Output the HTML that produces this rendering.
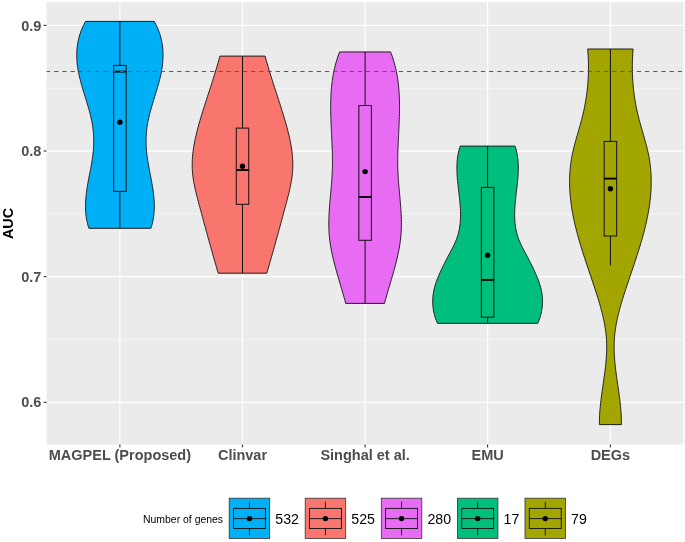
<!DOCTYPE html>
<html><head><meta charset="utf-8"><title>AUC violin plot</title>
<style>
html,body{margin:0;padding:0;background:#fff;}
body{width:685px;height:542px;overflow:hidden;}
svg{display:block;will-change:transform;}
text{font-family:"Liberation Sans",sans-serif;}
.ax{font-weight:bold;fill:#4d4d4d;font-size:14.5px;}
.lg{fill:#000;font-size:14.2px;}
</style></head><body>
<svg width="685" height="542" viewBox="0 0 685 542">
<rect x="0" y="0" width="685" height="542" fill="#fff"/>
<rect x="46.5" y="2.0" width="637.1" height="442.6" fill="#ebebeb"/>

<line x1="46.5" x2="683.6" y1="88.22" y2="88.22" stroke="#fff" stroke-width="0.6" opacity="0.85"/>
<line x1="46.5" x2="683.6" y1="213.85" y2="213.85" stroke="#fff" stroke-width="0.6" opacity="0.85"/>
<line x1="46.5" x2="683.6" y1="339.47" y2="339.47" stroke="#fff" stroke-width="0.6" opacity="0.85"/>
<line x1="46.5" x2="683.6" y1="25.40" y2="25.40" stroke="#fff" stroke-width="1.2"/>
<line x1="46.5" x2="683.6" y1="151.03" y2="151.03" stroke="#fff" stroke-width="1.2"/>
<line x1="46.5" x2="683.6" y1="276.66" y2="276.66" stroke="#fff" stroke-width="1.2"/>
<line x1="46.5" x2="683.6" y1="402.29" y2="402.29" stroke="#fff" stroke-width="1.2"/>
<line x1="119.9" x2="119.9" y1="2.0" y2="444.6" stroke="#fff" stroke-width="1.2"/>
<line x1="242.5" x2="242.5" y1="2.0" y2="444.6" stroke="#fff" stroke-width="1.2"/>
<line x1="365.1" x2="365.1" y1="2.0" y2="444.6" stroke="#fff" stroke-width="1.2"/>
<line x1="487.6" x2="487.6" y1="2.0" y2="444.6" stroke="#fff" stroke-width="1.2"/>
<line x1="610.4" x2="610.4" y1="2.0" y2="444.6" stroke="#fff" stroke-width="1.2"/>
<path d="M85.61,21.40 L84.77,22.90 L83.99,24.40 L83.25,25.90 L82.55,27.40 L81.90,28.90 L81.29,30.40 L80.72,31.89 L80.20,33.39 L79.71,34.89 L79.27,36.39 L78.86,37.89 L78.50,39.39 L78.17,40.89 L77.87,42.39 L77.62,43.89 L77.39,45.39 L77.21,46.89 L77.05,48.39 L76.93,49.89 L76.84,51.39 L76.79,52.88 L76.76,54.38 L76.76,55.88 L76.79,57.38 L76.85,58.88 L76.94,60.38 L77.06,61.88 L77.20,63.38 L77.36,64.88 L77.55,66.38 L77.76,67.88 L78.00,69.38 L78.26,70.88 L78.53,72.38 L78.83,73.87 L79.15,75.37 L79.49,76.87 L79.84,78.37 L80.22,79.87 L80.60,81.37 L81.00,82.87 L81.41,84.37 L81.84,85.87 L82.27,87.37 L82.71,88.87 L83.16,90.37 L83.61,91.87 L84.07,93.37 L84.53,94.86 L85.00,96.36 L85.46,97.86 L85.93,99.36 L86.39,100.86 L86.85,102.36 L87.30,103.86 L87.75,105.36 L88.19,106.86 L88.62,108.36 L89.05,109.86 L89.46,111.36 L89.86,112.86 L90.25,114.36 L90.62,115.85 L90.97,117.35 L91.31,118.85 L91.63,120.35 L91.93,121.85 L92.21,123.35 L92.46,124.85 L92.69,126.35 L92.90,127.85 L93.08,129.35 L93.24,130.85 L93.38,132.35 L93.50,133.85 L93.59,135.34 L93.66,136.84 L93.71,138.34 L93.73,139.84 L93.74,141.34 L93.72,142.84 L93.69,144.34 L93.63,145.84 L93.55,147.34 L93.46,148.84 L93.34,150.34 L93.21,151.84 L93.05,153.34 L92.88,154.84 L92.69,156.33 L92.49,157.83 L92.27,159.33 L92.04,160.83 L91.79,162.33 L91.54,163.83 L91.27,165.33 L91.00,166.83 L90.72,168.33 L90.44,169.83 L90.15,171.33 L89.86,172.83 L89.57,174.33 L89.28,175.83 L88.99,177.32 L88.70,178.82 L88.42,180.32 L88.15,181.82 L87.88,183.32 L87.62,184.82 L87.37,186.32 L87.13,187.82 L86.90,189.32 L86.68,190.82 L86.48,192.32 L86.29,193.82 L86.12,195.32 L85.97,196.82 L85.84,198.31 L85.72,199.81 L85.63,201.31 L85.56,202.81 L85.52,204.31 L85.49,205.81 L85.50,207.31 L85.53,208.81 L85.59,210.31 L85.67,211.81 L85.79,213.31 L85.94,214.81 L86.13,216.31 L86.34,217.81 L86.60,219.30 L86.89,220.80 L87.21,222.30 L87.58,223.80 L87.98,225.30 L88.43,226.80 L88.92,228.30 L150.88,228.30 L151.37,226.80 L151.82,225.30 L152.22,223.80 L152.59,222.30 L152.91,220.80 L153.20,219.30 L153.46,217.81 L153.67,216.31 L153.86,214.81 L154.01,213.31 L154.13,211.81 L154.21,210.31 L154.27,208.81 L154.30,207.31 L154.31,205.81 L154.28,204.31 L154.24,202.81 L154.17,201.31 L154.08,199.81 L153.96,198.31 L153.83,196.82 L153.68,195.32 L153.51,193.82 L153.32,192.32 L153.12,190.82 L152.90,189.32 L152.67,187.82 L152.43,186.32 L152.18,184.82 L151.92,183.32 L151.65,181.82 L151.38,180.32 L151.10,178.82 L150.81,177.32 L150.52,175.83 L150.23,174.33 L149.94,172.83 L149.65,171.33 L149.36,169.83 L149.08,168.33 L148.80,166.83 L148.53,165.33 L148.26,163.83 L148.01,162.33 L147.76,160.83 L147.53,159.33 L147.31,157.83 L147.11,156.33 L146.92,154.84 L146.75,153.34 L146.59,151.84 L146.46,150.34 L146.34,148.84 L146.25,147.34 L146.17,145.84 L146.11,144.34 L146.08,142.84 L146.06,141.34 L146.07,139.84 L146.09,138.34 L146.14,136.84 L146.21,135.34 L146.30,133.85 L146.42,132.35 L146.56,130.85 L146.72,129.35 L146.90,127.85 L147.11,126.35 L147.34,124.85 L147.59,123.35 L147.87,121.85 L148.17,120.35 L148.49,118.85 L148.83,117.35 L149.18,115.85 L149.55,114.36 L149.94,112.86 L150.34,111.36 L150.75,109.86 L151.18,108.36 L151.61,106.86 L152.05,105.36 L152.50,103.86 L152.95,102.36 L153.41,100.86 L153.87,99.36 L154.34,97.86 L154.80,96.36 L155.27,94.86 L155.73,93.37 L156.19,91.87 L156.64,90.37 L157.09,88.87 L157.53,87.37 L157.96,85.87 L158.39,84.37 L158.80,82.87 L159.20,81.37 L159.58,79.87 L159.96,78.37 L160.31,76.87 L160.65,75.37 L160.97,73.87 L161.27,72.38 L161.54,70.88 L161.80,69.38 L162.04,67.88 L162.25,66.38 L162.44,64.88 L162.60,63.38 L162.74,61.88 L162.86,60.38 L162.95,58.88 L163.01,57.38 L163.04,55.88 L163.04,54.38 L163.01,52.88 L162.96,51.39 L162.87,49.89 L162.75,48.39 L162.59,46.89 L162.41,45.39 L162.18,43.89 L161.93,42.39 L161.63,40.89 L161.30,39.39 L160.94,37.89 L160.53,36.39 L160.09,34.89 L159.60,33.39 L159.08,31.89 L158.51,30.40 L157.90,28.90 L157.25,27.40 L156.55,25.90 L155.81,24.40 L155.03,22.90 L154.19,21.40Z" fill="#00B0F6" stroke="#1e1e1e" stroke-width="1" stroke-linejoin="miter"/>
<path d="M219.87,56.10 L219.48,57.60 L219.07,59.09 L218.66,60.59 L218.25,62.09 L217.82,63.59 L217.39,65.08 L216.95,66.58 L216.51,68.08 L216.07,69.58 L215.61,71.07 L215.16,72.57 L214.70,74.07 L214.23,75.56 L213.76,77.06 L213.29,78.56 L212.82,80.06 L212.34,81.55 L211.86,83.05 L211.38,84.55 L210.89,86.04 L210.41,87.54 L209.92,89.04 L209.44,90.54 L208.95,92.03 L208.46,93.53 L207.97,95.03 L207.48,96.53 L207.00,98.02 L206.51,99.52 L206.03,101.02 L205.54,102.51 L205.06,104.01 L204.58,105.51 L204.11,107.01 L203.63,108.50 L203.16,110.00 L202.69,111.50 L202.23,113.00 L201.77,114.49 L201.32,115.99 L200.87,117.49 L200.42,118.98 L199.98,120.48 L199.55,121.98 L199.12,123.48 L198.70,124.97 L198.29,126.47 L197.88,127.97 L197.48,129.46 L197.10,130.96 L196.72,132.46 L196.35,133.96 L196.00,135.45 L195.65,136.95 L195.32,138.45 L195.01,139.95 L194.70,141.44 L194.41,142.94 L194.14,144.44 L193.88,145.93 L193.63,147.43 L193.41,148.93 L193.20,150.43 L193.00,151.92 L192.83,153.42 L192.68,154.92 L192.54,156.42 L192.43,157.91 L192.34,159.41 L192.27,160.91 L192.22,162.40 L192.19,163.90 L192.19,165.40 L192.21,166.90 L192.26,168.39 L192.33,169.89 L192.43,171.39 L192.55,172.88 L192.70,174.38 L192.87,175.88 L193.07,177.38 L193.28,178.87 L193.52,180.37 L193.77,181.87 L194.04,183.37 L194.33,184.86 L194.63,186.36 L194.95,187.86 L195.28,189.35 L195.62,190.85 L195.97,192.35 L196.33,193.85 L196.71,195.34 L197.09,196.84 L197.47,198.34 L197.86,199.84 L198.26,201.33 L198.65,202.83 L199.05,204.33 L199.46,205.82 L199.86,207.32 L200.26,208.82 L200.66,210.32 L201.06,211.81 L201.47,213.31 L201.87,214.81 L202.27,216.30 L202.68,217.80 L203.08,219.30 L203.49,220.80 L203.89,222.29 L204.30,223.79 L204.71,225.29 L205.11,226.79 L205.52,228.28 L205.93,229.78 L206.34,231.28 L206.75,232.77 L207.16,234.27 L207.58,235.77 L207.99,237.27 L208.40,238.76 L208.82,240.26 L209.23,241.76 L209.65,243.26 L210.06,244.75 L210.48,246.25 L210.90,247.75 L211.32,249.24 L211.74,250.74 L212.16,252.24 L212.59,253.74 L213.01,255.23 L213.43,256.73 L213.86,258.23 L214.29,259.72 L214.71,261.22 L215.14,262.72 L215.57,264.22 L216.00,265.71 L216.44,267.21 L216.87,268.71 L217.31,270.21 L217.74,271.70 L218.18,273.20 L266.82,273.20 L267.26,271.70 L267.69,270.21 L268.13,268.71 L268.56,267.21 L269.00,265.71 L269.43,264.22 L269.86,262.72 L270.29,261.22 L270.71,259.72 L271.14,258.23 L271.57,256.73 L271.99,255.23 L272.41,253.74 L272.84,252.24 L273.26,250.74 L273.68,249.24 L274.10,247.75 L274.52,246.25 L274.94,244.75 L275.35,243.26 L275.77,241.76 L276.18,240.26 L276.60,238.76 L277.01,237.27 L277.42,235.77 L277.84,234.27 L278.25,232.77 L278.66,231.28 L279.07,229.78 L279.48,228.28 L279.89,226.79 L280.29,225.29 L280.70,223.79 L281.11,222.29 L281.51,220.80 L281.92,219.30 L282.32,217.80 L282.73,216.30 L283.13,214.81 L283.53,213.31 L283.94,211.81 L284.34,210.32 L284.74,208.82 L285.14,207.32 L285.54,205.82 L285.95,204.33 L286.35,202.83 L286.74,201.33 L287.14,199.84 L287.53,198.34 L287.91,196.84 L288.29,195.34 L288.67,193.85 L289.03,192.35 L289.38,190.85 L289.72,189.35 L290.05,187.86 L290.37,186.36 L290.67,184.86 L290.96,183.37 L291.23,181.87 L291.48,180.37 L291.72,178.87 L291.93,177.38 L292.13,175.88 L292.30,174.38 L292.45,172.88 L292.57,171.39 L292.67,169.89 L292.74,168.39 L292.79,166.90 L292.81,165.40 L292.81,163.90 L292.78,162.40 L292.73,160.91 L292.66,159.41 L292.57,157.91 L292.46,156.42 L292.32,154.92 L292.17,153.42 L292.00,151.92 L291.80,150.43 L291.59,148.93 L291.37,147.43 L291.12,145.93 L290.86,144.44 L290.59,142.94 L290.30,141.44 L289.99,139.95 L289.68,138.45 L289.35,136.95 L289.00,135.45 L288.65,133.96 L288.28,132.46 L287.90,130.96 L287.52,129.46 L287.12,127.97 L286.71,126.47 L286.30,124.97 L285.88,123.48 L285.45,121.98 L285.02,120.48 L284.58,118.98 L284.13,117.49 L283.68,115.99 L283.23,114.49 L282.77,113.00 L282.31,111.50 L281.84,110.00 L281.37,108.50 L280.89,107.01 L280.42,105.51 L279.94,104.01 L279.46,102.51 L278.97,101.02 L278.49,99.52 L278.00,98.02 L277.52,96.53 L277.03,95.03 L276.54,93.53 L276.05,92.03 L275.56,90.54 L275.08,89.04 L274.59,87.54 L274.11,86.04 L273.62,84.55 L273.14,83.05 L272.66,81.55 L272.18,80.06 L271.71,78.56 L271.24,77.06 L270.77,75.56 L270.30,74.07 L269.84,72.57 L269.39,71.07 L268.93,69.58 L268.49,68.08 L268.05,66.58 L267.61,65.08 L267.18,63.59 L266.75,62.09 L266.34,60.59 L265.93,59.09 L265.52,57.60 L265.13,56.10Z" fill="#F8766D" stroke="#1e1e1e" stroke-width="1" stroke-linejoin="miter"/>
<path d="M339.59,51.95 L339.01,53.45 L338.47,54.94 L337.94,56.44 L337.44,57.94 L336.96,59.43 L336.50,60.93 L336.06,62.43 L335.64,63.92 L335.25,65.42 L334.87,66.92 L334.51,68.41 L334.17,69.91 L333.86,71.41 L333.55,72.90 L333.27,74.40 L333.01,75.90 L332.76,77.39 L332.52,78.89 L332.31,80.39 L332.11,81.88 L331.92,83.38 L331.75,84.88 L331.60,86.37 L331.45,87.87 L331.32,89.37 L331.21,90.86 L331.11,92.36 L331.01,93.86 L330.94,95.36 L330.87,96.85 L330.81,98.35 L330.76,99.85 L330.73,101.34 L330.70,102.84 L330.68,104.34 L330.67,105.83 L330.67,107.33 L330.68,108.83 L330.69,110.32 L330.71,111.82 L330.74,113.32 L330.77,114.81 L330.81,116.31 L330.86,117.81 L330.91,119.30 L330.96,120.80 L331.02,122.30 L331.08,123.79 L331.14,125.29 L331.21,126.79 L331.28,128.28 L331.35,129.78 L331.42,131.28 L331.49,132.77 L331.57,134.27 L331.64,135.77 L331.71,137.26 L331.78,138.76 L331.85,140.26 L331.92,141.75 L331.99,143.25 L332.05,144.75 L332.12,146.24 L332.17,147.74 L332.23,149.24 L332.28,150.73 L332.32,152.23 L332.36,153.73 L332.39,155.22 L332.42,156.72 L332.44,158.22 L332.46,159.71 L332.46,161.21 L332.46,162.71 L332.45,164.20 L332.43,165.70 L332.41,167.20 L332.37,168.69 L332.32,170.19 L332.26,171.69 L332.20,173.18 L332.12,174.68 L332.04,176.18 L331.94,177.68 L331.84,179.17 L331.74,180.67 L331.62,182.17 L331.50,183.66 L331.38,185.16 L331.26,186.66 L331.13,188.15 L330.99,189.65 L330.86,191.15 L330.72,192.64 L330.59,194.14 L330.45,195.64 L330.32,197.13 L330.18,198.63 L330.05,200.13 L329.92,201.62 L329.80,203.12 L329.68,204.62 L329.56,206.11 L329.45,207.61 L329.35,209.11 L329.25,210.60 L329.16,212.10 L329.08,213.60 L329.01,215.09 L328.95,216.59 L328.90,218.09 L328.86,219.58 L328.83,221.08 L328.81,222.58 L328.81,224.07 L328.82,225.57 L328.84,227.07 L328.88,228.56 L328.93,230.06 L329.01,231.56 L329.09,233.05 L329.20,234.55 L329.33,236.05 L329.47,237.54 L329.63,239.04 L329.81,240.54 L330.01,242.03 L330.22,243.53 L330.45,245.03 L330.70,246.52 L330.96,248.02 L331.23,249.52 L331.52,251.01 L331.82,252.51 L332.14,254.01 L332.46,255.50 L332.80,257.00 L333.15,258.50 L333.50,259.99 L333.87,261.49 L334.25,262.99 L334.63,264.49 L335.03,265.98 L335.43,267.48 L335.84,268.98 L336.25,270.47 L336.67,271.97 L337.09,273.47 L337.52,274.96 L337.95,276.46 L338.39,277.96 L338.82,279.45 L339.26,280.95 L339.71,282.45 L340.15,283.94 L340.59,285.44 L341.03,286.94 L341.47,288.43 L341.91,289.93 L342.35,291.43 L342.78,292.92 L343.22,294.42 L343.64,295.92 L344.07,297.41 L344.48,298.91 L344.90,300.41 L345.30,301.90 L345.70,303.40 L384.50,303.40 L384.90,301.90 L385.30,300.41 L385.72,298.91 L386.13,297.41 L386.56,295.92 L386.98,294.42 L387.42,292.92 L387.85,291.43 L388.29,289.93 L388.73,288.43 L389.17,286.94 L389.61,285.44 L390.05,283.94 L390.49,282.45 L390.94,280.95 L391.38,279.45 L391.81,277.96 L392.25,276.46 L392.68,274.96 L393.11,273.47 L393.53,271.97 L393.95,270.47 L394.36,268.98 L394.77,267.48 L395.17,265.98 L395.57,264.49 L395.95,262.99 L396.33,261.49 L396.70,259.99 L397.05,258.50 L397.40,257.00 L397.74,255.50 L398.06,254.01 L398.38,252.51 L398.68,251.01 L398.97,249.52 L399.24,248.02 L399.50,246.52 L399.75,245.03 L399.98,243.53 L400.19,242.03 L400.39,240.54 L400.57,239.04 L400.73,237.54 L400.87,236.05 L401.00,234.55 L401.11,233.05 L401.19,231.56 L401.27,230.06 L401.32,228.56 L401.36,227.07 L401.38,225.57 L401.39,224.07 L401.39,222.58 L401.37,221.08 L401.34,219.58 L401.30,218.09 L401.25,216.59 L401.19,215.09 L401.12,213.60 L401.04,212.10 L400.95,210.60 L400.85,209.11 L400.75,207.61 L400.64,206.11 L400.52,204.62 L400.40,203.12 L400.28,201.62 L400.15,200.13 L400.02,198.63 L399.88,197.13 L399.75,195.64 L399.61,194.14 L399.48,192.64 L399.34,191.15 L399.21,189.65 L399.07,188.15 L398.94,186.66 L398.82,185.16 L398.70,183.66 L398.58,182.17 L398.46,180.67 L398.36,179.17 L398.26,177.68 L398.16,176.18 L398.08,174.68 L398.00,173.18 L397.94,171.69 L397.88,170.19 L397.83,168.69 L397.79,167.20 L397.77,165.70 L397.75,164.20 L397.74,162.71 L397.74,161.21 L397.74,159.71 L397.76,158.22 L397.78,156.72 L397.81,155.22 L397.84,153.73 L397.88,152.23 L397.92,150.73 L397.97,149.24 L398.03,147.74 L398.08,146.24 L398.15,144.75 L398.21,143.25 L398.28,141.75 L398.35,140.26 L398.42,138.76 L398.49,137.26 L398.56,135.77 L398.63,134.27 L398.71,132.77 L398.78,131.28 L398.85,129.78 L398.92,128.28 L398.99,126.79 L399.06,125.29 L399.12,123.79 L399.18,122.30 L399.24,120.80 L399.29,119.30 L399.34,117.81 L399.39,116.31 L399.43,114.81 L399.46,113.32 L399.49,111.82 L399.51,110.32 L399.52,108.83 L399.53,107.33 L399.53,105.83 L399.52,104.34 L399.50,102.84 L399.47,101.34 L399.44,99.85 L399.39,98.35 L399.33,96.85 L399.26,95.36 L399.19,93.86 L399.09,92.36 L398.99,90.86 L398.88,89.37 L398.75,87.87 L398.60,86.37 L398.45,84.88 L398.28,83.38 L398.09,81.88 L397.89,80.39 L397.68,78.89 L397.44,77.39 L397.19,75.90 L396.93,74.40 L396.65,72.90 L396.34,71.41 L396.03,69.91 L395.69,68.41 L395.33,66.92 L394.95,65.42 L394.56,63.92 L394.14,62.43 L393.70,60.93 L393.24,59.43 L392.76,57.94 L392.26,56.44 L391.73,54.94 L391.19,53.45 L390.61,51.95Z" fill="#E76BF3" stroke="#1e1e1e" stroke-width="1" stroke-linejoin="miter"/>
<path d="M460.17,146.10 L459.70,147.59 L459.27,149.08 L458.88,150.57 L458.54,152.06 L458.23,153.55 L457.95,155.03 L457.72,156.52 L457.51,158.01 L457.34,159.50 L457.20,160.99 L457.09,162.48 L457.01,163.97 L456.95,165.46 L456.92,166.95 L456.91,168.44 L456.93,169.93 L456.96,171.41 L457.02,172.90 L457.09,174.39 L457.18,175.88 L457.28,177.37 L457.40,178.86 L457.53,180.35 L457.67,181.84 L457.82,183.33 L457.98,184.82 L458.14,186.31 L458.31,187.79 L458.48,189.28 L458.66,190.77 L458.83,192.26 L459.01,193.75 L459.18,195.24 L459.35,196.73 L459.51,198.22 L459.67,199.71 L459.82,201.20 L459.96,202.68 L460.09,204.17 L460.21,205.66 L460.31,207.15 L460.40,208.64 L460.47,210.13 L460.52,211.62 L460.56,213.11 L460.57,214.60 L460.56,216.09 L460.53,217.58 L460.47,219.06 L460.39,220.55 L460.28,222.04 L460.14,223.53 L459.97,225.02 L459.76,226.51 L459.52,228.00 L459.25,229.49 L458.94,230.98 L458.59,232.47 L458.20,233.96 L457.78,235.44 L457.31,236.93 L456.79,238.42 L456.23,239.91 L455.63,241.40 L454.98,242.89 L454.30,244.38 L453.58,245.87 L452.84,247.36 L452.07,248.85 L451.29,250.34 L450.50,251.82 L449.70,253.31 L448.91,254.80 L448.11,256.29 L447.32,257.78 L446.54,259.27 L445.77,260.76 L445.01,262.25 L444.26,263.74 L443.52,265.23 L442.79,266.72 L442.07,268.20 L441.37,269.69 L440.68,271.18 L440.00,272.67 L439.34,274.16 L438.70,275.65 L438.08,277.14 L437.48,278.63 L436.91,280.12 L436.36,281.61 L435.85,283.09 L435.37,284.58 L434.93,286.07 L434.52,287.56 L434.15,289.05 L433.83,290.54 L433.54,292.03 L433.30,293.52 L433.10,295.01 L432.94,296.50 L432.82,297.99 L432.74,299.47 L432.70,300.96 L432.71,302.45 L432.76,303.94 L432.85,305.43 L432.99,306.92 L433.17,308.41 L433.39,309.90 L433.66,311.39 L433.97,312.88 L434.33,314.37 L434.73,315.85 L435.18,317.34 L435.67,318.83 L436.21,320.32 L436.79,321.81 L437.42,323.30 L537.78,323.30 L538.41,321.81 L538.99,320.32 L539.53,318.83 L540.02,317.34 L540.47,315.85 L540.87,314.37 L541.23,312.88 L541.54,311.39 L541.81,309.90 L542.03,308.41 L542.21,306.92 L542.35,305.43 L542.44,303.94 L542.49,302.45 L542.50,300.96 L542.46,299.47 L542.38,297.99 L542.26,296.50 L542.10,295.01 L541.90,293.52 L541.66,292.03 L541.37,290.54 L541.05,289.05 L540.68,287.56 L540.27,286.07 L539.83,284.58 L539.35,283.09 L538.84,281.61 L538.29,280.12 L537.72,278.63 L537.12,277.14 L536.50,275.65 L535.86,274.16 L535.20,272.67 L534.52,271.18 L533.83,269.69 L533.13,268.20 L532.41,266.72 L531.68,265.23 L530.94,263.74 L530.19,262.25 L529.43,260.76 L528.66,259.27 L527.88,257.78 L527.09,256.29 L526.29,254.80 L525.50,253.31 L524.70,251.82 L523.91,250.34 L523.13,248.85 L522.36,247.36 L521.62,245.87 L520.90,244.38 L520.22,242.89 L519.57,241.40 L518.97,239.91 L518.41,238.42 L517.89,236.93 L517.42,235.44 L517.00,233.96 L516.61,232.47 L516.26,230.98 L515.95,229.49 L515.68,228.00 L515.44,226.51 L515.23,225.02 L515.06,223.53 L514.92,222.04 L514.81,220.55 L514.73,219.06 L514.67,217.58 L514.64,216.09 L514.63,214.60 L514.64,213.11 L514.68,211.62 L514.73,210.13 L514.80,208.64 L514.89,207.15 L514.99,205.66 L515.11,204.17 L515.24,202.68 L515.38,201.20 L515.53,199.71 L515.69,198.22 L515.85,196.73 L516.02,195.24 L516.19,193.75 L516.37,192.26 L516.54,190.77 L516.72,189.28 L516.89,187.79 L517.06,186.31 L517.22,184.82 L517.38,183.33 L517.53,181.84 L517.67,180.35 L517.80,178.86 L517.92,177.37 L518.02,175.88 L518.11,174.39 L518.18,172.90 L518.24,171.41 L518.27,169.93 L518.29,168.44 L518.28,166.95 L518.25,165.46 L518.19,163.97 L518.11,162.48 L518.00,160.99 L517.86,159.50 L517.69,158.01 L517.48,156.52 L517.25,155.03 L516.97,153.55 L516.66,152.06 L516.32,150.57 L515.93,149.08 L515.50,147.59 L515.03,146.10Z" fill="#00BF7D" stroke="#1e1e1e" stroke-width="1" stroke-linejoin="miter"/>
<path d="M587.68,49.00 L587.80,50.50 L587.91,51.99 L588.01,53.49 L588.11,54.99 L588.19,56.48 L588.26,57.98 L588.32,59.47 L588.37,60.97 L588.41,62.47 L588.44,63.96 L588.46,65.46 L588.47,66.96 L588.46,68.45 L588.45,69.95 L588.43,71.45 L588.39,72.94 L588.34,74.44 L588.29,75.94 L588.22,77.43 L588.14,78.93 L588.05,80.42 L587.95,81.92 L587.84,83.42 L587.71,84.91 L587.58,86.41 L587.43,87.91 L587.28,89.40 L587.11,90.90 L586.93,92.40 L586.74,93.89 L586.53,95.39 L586.32,96.89 L586.10,98.38 L585.86,99.88 L585.61,101.37 L585.35,102.87 L585.08,104.37 L584.79,105.86 L584.50,107.36 L584.19,108.86 L583.87,110.35 L583.54,111.85 L583.20,113.35 L582.84,114.84 L582.48,116.34 L582.10,117.84 L581.71,119.33 L581.32,120.83 L580.91,122.32 L580.50,123.82 L580.08,125.32 L579.66,126.81 L579.23,128.31 L578.80,129.81 L578.37,131.30 L577.94,132.80 L577.51,134.30 L577.08,135.79 L576.65,137.29 L576.23,138.78 L575.81,140.28 L575.40,141.78 L575.00,143.27 L574.60,144.77 L574.21,146.27 L573.84,147.76 L573.47,149.26 L573.12,150.76 L572.78,152.25 L572.46,153.75 L572.15,155.25 L571.86,156.74 L571.58,158.24 L571.33,159.73 L571.09,161.23 L570.87,162.73 L570.67,164.22 L570.49,165.72 L570.32,167.22 L570.18,168.71 L570.04,170.21 L569.93,171.71 L569.83,173.20 L569.75,174.70 L569.69,176.20 L569.64,177.69 L569.60,179.19 L569.59,180.68 L569.58,182.18 L569.60,183.68 L569.63,185.17 L569.67,186.67 L569.73,188.17 L569.80,189.66 L569.88,191.16 L569.98,192.66 L570.09,194.15 L570.22,195.65 L570.36,197.15 L570.51,198.64 L570.68,200.14 L570.86,201.63 L571.05,203.13 L571.25,204.63 L571.46,206.12 L571.69,207.62 L571.93,209.12 L572.18,210.61 L572.44,212.11 L572.71,213.61 L572.99,215.10 L573.28,216.60 L573.58,218.09 L573.89,219.59 L574.22,221.09 L574.55,222.58 L574.89,224.08 L575.24,225.58 L575.60,227.07 L575.97,228.57 L576.34,230.07 L576.73,231.56 L577.12,233.06 L577.52,234.56 L577.93,236.05 L578.34,237.55 L578.77,239.04 L579.20,240.54 L579.63,242.04 L580.08,243.53 L580.52,245.03 L580.98,246.53 L581.44,248.02 L581.90,249.52 L582.37,251.02 L582.84,252.51 L583.32,254.01 L583.80,255.51 L584.29,257.00 L584.78,258.50 L585.27,259.99 L585.77,261.49 L586.26,262.99 L586.76,264.48 L587.26,265.98 L587.77,267.48 L588.27,268.97 L588.78,270.47 L589.28,271.97 L589.79,273.46 L590.30,274.96 L590.80,276.45 L591.31,277.95 L591.82,279.45 L592.32,280.94 L592.82,282.44 L593.33,283.94 L593.83,285.43 L594.32,286.93 L594.82,288.43 L595.31,289.92 L595.80,291.42 L596.28,292.92 L596.76,294.41 L597.24,295.91 L597.71,297.40 L598.17,298.90 L598.63,300.40 L599.07,301.89 L599.52,303.39 L599.95,304.89 L600.37,306.38 L600.79,307.88 L601.19,309.38 L601.59,310.87 L601.97,312.37 L602.34,313.87 L602.70,315.36 L603.05,316.86 L603.39,318.35 L603.71,319.85 L604.02,321.35 L604.32,322.84 L604.60,324.34 L604.86,325.84 L605.11,327.33 L605.34,328.83 L605.56,330.33 L605.76,331.82 L605.94,333.32 L606.10,334.82 L606.24,336.31 L606.37,337.81 L606.47,339.30 L606.55,340.80 L606.62,342.30 L606.66,343.79 L606.69,345.29 L606.70,346.79 L606.69,348.28 L606.67,349.78 L606.63,351.28 L606.58,352.77 L606.51,354.27 L606.43,355.76 L606.33,357.26 L606.22,358.76 L606.10,360.25 L605.97,361.75 L605.83,363.25 L605.68,364.74 L605.52,366.24 L605.36,367.74 L605.18,369.23 L605.00,370.73 L604.81,372.23 L604.61,373.72 L604.41,375.22 L604.21,376.71 L604.00,378.21 L603.79,379.71 L603.58,381.20 L603.37,382.70 L603.15,384.20 L602.93,385.69 L602.72,387.19 L602.50,388.69 L602.29,390.18 L602.08,391.68 L601.87,393.18 L601.67,394.67 L601.47,396.17 L601.28,397.66 L601.09,399.16 L600.90,400.66 L600.73,402.15 L600.56,403.65 L600.40,405.15 L600.25,406.64 L600.11,408.14 L599.98,409.64 L599.86,411.13 L599.75,412.63 L599.65,414.13 L599.57,415.62 L599.50,417.12 L599.45,418.61 L599.41,420.11 L599.38,421.61 L599.38,423.10 L599.38,424.60 L621.42,424.60 L621.42,423.10 L621.42,421.61 L621.39,420.11 L621.35,418.61 L621.30,417.12 L621.23,415.62 L621.15,414.13 L621.05,412.63 L620.94,411.13 L620.82,409.64 L620.69,408.14 L620.55,406.64 L620.40,405.15 L620.24,403.65 L620.07,402.15 L619.90,400.66 L619.71,399.16 L619.52,397.66 L619.33,396.17 L619.13,394.67 L618.93,393.18 L618.72,391.68 L618.51,390.18 L618.30,388.69 L618.08,387.19 L617.87,385.69 L617.65,384.20 L617.43,382.70 L617.22,381.20 L617.01,379.71 L616.80,378.21 L616.59,376.71 L616.39,375.22 L616.19,373.72 L615.99,372.23 L615.80,370.73 L615.62,369.23 L615.44,367.74 L615.28,366.24 L615.12,364.74 L614.97,363.25 L614.83,361.75 L614.70,360.25 L614.58,358.76 L614.47,357.26 L614.37,355.76 L614.29,354.27 L614.22,352.77 L614.17,351.28 L614.13,349.78 L614.11,348.28 L614.10,346.79 L614.11,345.29 L614.14,343.79 L614.18,342.30 L614.25,340.80 L614.33,339.30 L614.43,337.81 L614.56,336.31 L614.70,334.82 L614.86,333.32 L615.04,331.82 L615.24,330.33 L615.46,328.83 L615.69,327.33 L615.94,325.84 L616.20,324.34 L616.48,322.84 L616.78,321.35 L617.09,319.85 L617.41,318.35 L617.75,316.86 L618.10,315.36 L618.46,313.87 L618.83,312.37 L619.21,310.87 L619.61,309.38 L620.01,307.88 L620.43,306.38 L620.85,304.89 L621.28,303.39 L621.73,301.89 L622.17,300.40 L622.63,298.90 L623.09,297.40 L623.56,295.91 L624.04,294.41 L624.52,292.92 L625.00,291.42 L625.49,289.92 L625.98,288.43 L626.48,286.93 L626.97,285.43 L627.47,283.94 L627.98,282.44 L628.48,280.94 L628.98,279.45 L629.49,277.95 L630.00,276.45 L630.50,274.96 L631.01,273.46 L631.52,271.97 L632.02,270.47 L632.53,268.97 L633.03,267.48 L633.54,265.98 L634.04,264.48 L634.54,262.99 L635.03,261.49 L635.53,259.99 L636.02,258.50 L636.51,257.00 L637.00,255.51 L637.48,254.01 L637.96,252.51 L638.43,251.02 L638.90,249.52 L639.36,248.02 L639.82,246.53 L640.28,245.03 L640.72,243.53 L641.17,242.04 L641.60,240.54 L642.03,239.04 L642.46,237.55 L642.87,236.05 L643.28,234.56 L643.68,233.06 L644.07,231.56 L644.46,230.07 L644.83,228.57 L645.20,227.07 L645.56,225.58 L645.91,224.08 L646.25,222.58 L646.58,221.09 L646.91,219.59 L647.22,218.09 L647.52,216.60 L647.81,215.10 L648.09,213.61 L648.36,212.11 L648.62,210.61 L648.87,209.12 L649.11,207.62 L649.34,206.12 L649.55,204.63 L649.75,203.13 L649.94,201.63 L650.12,200.14 L650.29,198.64 L650.44,197.15 L650.58,195.65 L650.71,194.15 L650.82,192.66 L650.92,191.16 L651.00,189.66 L651.07,188.17 L651.13,186.67 L651.17,185.17 L651.20,183.68 L651.22,182.18 L651.21,180.68 L651.20,179.19 L651.16,177.69 L651.11,176.20 L651.05,174.70 L650.97,173.20 L650.87,171.71 L650.76,170.21 L650.62,168.71 L650.48,167.22 L650.31,165.72 L650.13,164.22 L649.93,162.73 L649.71,161.23 L649.47,159.73 L649.22,158.24 L648.94,156.74 L648.65,155.25 L648.34,153.75 L648.02,152.25 L647.68,150.76 L647.33,149.26 L646.96,147.76 L646.59,146.27 L646.20,144.77 L645.80,143.27 L645.40,141.78 L644.99,140.28 L644.57,138.78 L644.15,137.29 L643.72,135.79 L643.29,134.30 L642.86,132.80 L642.43,131.30 L642.00,129.81 L641.57,128.31 L641.14,126.81 L640.72,125.32 L640.30,123.82 L639.89,122.32 L639.48,120.83 L639.09,119.33 L638.70,117.84 L638.32,116.34 L637.96,114.84 L637.60,113.35 L637.26,111.85 L636.93,110.35 L636.61,108.86 L636.30,107.36 L636.01,105.86 L635.72,104.37 L635.45,102.87 L635.19,101.37 L634.94,99.88 L634.70,98.38 L634.48,96.89 L634.27,95.39 L634.06,93.89 L633.87,92.40 L633.69,90.90 L633.52,89.40 L633.37,87.91 L633.22,86.41 L633.09,84.91 L632.96,83.42 L632.85,81.92 L632.75,80.42 L632.66,78.93 L632.58,77.43 L632.51,75.94 L632.46,74.44 L632.41,72.94 L632.37,71.45 L632.35,69.95 L632.34,68.45 L632.33,66.96 L632.34,65.46 L632.36,63.96 L632.39,62.47 L632.43,60.97 L632.48,59.47 L632.54,57.98 L632.61,56.48 L632.69,54.99 L632.79,53.49 L632.89,51.99 L633.00,50.50 L633.12,49.00Z" fill="#A3A500" stroke="#1e1e1e" stroke-width="1" stroke-linejoin="miter"/>
<line x1="119.9" x2="119.9" y1="21.4" y2="65.4" stroke="#111" stroke-width="1"/>
<line x1="119.9" x2="119.9" y1="191.4" y2="228.3" stroke="#111" stroke-width="1"/>
<rect x="113.65" y="65.4" width="12.50" height="126.00" fill="#00B0F6" stroke="#111" stroke-width="1"/>
<line x1="113.65" x2="126.15" y1="71.6" y2="71.6" stroke="#000" stroke-width="1.9"/>
<circle cx="119.9" cy="122.15" r="2.7" fill="#000"/>
<line x1="242.5" x2="242.5" y1="56.1" y2="128.1" stroke="#111" stroke-width="1"/>
<line x1="242.5" x2="242.5" y1="204.3" y2="273.2" stroke="#111" stroke-width="1"/>
<rect x="236.25" y="128.1" width="12.50" height="76.20" fill="#F8766D" stroke="#111" stroke-width="1"/>
<line x1="236.25" x2="248.75" y1="170.0" y2="170.0" stroke="#000" stroke-width="1.9"/>
<circle cx="242.5" cy="166.2" r="2.7" fill="#000"/>
<line x1="365.1" x2="365.1" y1="51.95" y2="105.5" stroke="#111" stroke-width="1"/>
<line x1="365.1" x2="365.1" y1="240.3" y2="303.4" stroke="#111" stroke-width="1"/>
<rect x="358.85" y="105.5" width="12.50" height="134.80" fill="#E76BF3" stroke="#111" stroke-width="1"/>
<line x1="358.85" x2="371.35" y1="197.0" y2="197.0" stroke="#000" stroke-width="1.9"/>
<circle cx="365.1" cy="171.6" r="2.7" fill="#000"/>
<line x1="487.6" x2="487.6" y1="146.1" y2="187.4" stroke="#111" stroke-width="1"/>
<line x1="487.6" x2="487.6" y1="317.2" y2="323.3" stroke="#111" stroke-width="1"/>
<rect x="481.35" y="187.4" width="12.50" height="129.80" fill="#00BF7D" stroke="#111" stroke-width="1"/>
<line x1="481.35" x2="493.85" y1="279.9" y2="279.9" stroke="#000" stroke-width="1.9"/>
<circle cx="487.6" cy="255.2" r="2.7" fill="#000"/>
<line x1="610.4" x2="610.4" y1="49.0" y2="141.4" stroke="#111" stroke-width="1"/>
<line x1="610.4" x2="610.4" y1="236.0" y2="265.4" stroke="#111" stroke-width="1"/>
<rect x="604.15" y="141.4" width="12.50" height="94.60" fill="#A3A500" stroke="#111" stroke-width="1"/>
<line x1="604.15" x2="616.65" y1="178.6" y2="178.6" stroke="#000" stroke-width="1.9"/>
<circle cx="610.4" cy="188.8" r="2.7" fill="#000"/>
<line x1="45.9" x2="683.6" y1="71.55" y2="71.55" stroke="#7c4c4c" stroke-width="1.1" stroke-dasharray="4.3 3.9065"/>
<rect x="0" y="60" width="46.5" height="20" fill="#fff"/>
<line x1="43.6" x2="46.5" y1="25.40" y2="25.40" stroke="#333" stroke-width="1.1"/>
<text class="ax" x="41.4" y="30.60" text-anchor="end">0.9</text>
<line x1="43.6" x2="46.5" y1="151.03" y2="151.03" stroke="#333" stroke-width="1.1"/>
<text class="ax" x="41.4" y="156.23" text-anchor="end">0.8</text>
<line x1="43.6" x2="46.5" y1="276.66" y2="276.66" stroke="#333" stroke-width="1.1"/>
<text class="ax" x="41.4" y="281.86" text-anchor="end">0.7</text>
<line x1="43.6" x2="46.5" y1="402.29" y2="402.29" stroke="#333" stroke-width="1.1"/>
<text class="ax" x="41.4" y="407.49" text-anchor="end">0.6</text>
<line x1="119.9" x2="119.9" y1="444.6" y2="447.40000000000003" stroke="#333" stroke-width="1.1"/>
<text class="ax" x="119.9" y="460.0" text-anchor="middle">MAGPEL (Proposed)</text>
<line x1="242.5" x2="242.5" y1="444.6" y2="447.40000000000003" stroke="#333" stroke-width="1.1"/>
<text class="ax" x="242.5" y="460.0" text-anchor="middle">Clinvar</text>
<line x1="365.1" x2="365.1" y1="444.6" y2="447.40000000000003" stroke="#333" stroke-width="1.1"/>
<text class="ax" x="365.1" y="460.0" text-anchor="middle">Singhal et al.</text>
<line x1="487.6" x2="487.6" y1="444.6" y2="447.40000000000003" stroke="#333" stroke-width="1.1"/>
<text class="ax" x="487.6" y="460.0" text-anchor="middle">EMU</text>
<line x1="610.4" x2="610.4" y1="444.6" y2="447.40000000000003" stroke="#333" stroke-width="1.1"/>
<text class="ax" x="610.4" y="460.0" text-anchor="middle">DEGs</text>
<text x="0" y="0" transform="translate(13.2,223.5) rotate(-90)" text-anchor="middle" font-weight="bold" font-size="14.4px" fill="#000">AUC</text>
<text x="143" y="522.9" font-size="10.45px" fill="#000">Number of genes</text>
<rect x="229.2" y="498.2" width="40.5" height="40.2" fill="#00B0F6" stroke="#333" stroke-width="0.8"/>
<line x1="249.45" x2="249.45" y1="501.80" y2="535.40" stroke="#111" stroke-width="0.9"/>
<rect x="233.50" y="508.40" width="31.90" height="20.10" fill="#00B0F6" stroke="#111" stroke-width="0.9"/>
<line x1="233.5" x2="265.4" y1="518.5999999999999" y2="518.5999999999999" stroke="#111" stroke-width="0.9"/>
<circle cx="249.45" cy="518.5999999999999" r="2.7" fill="#000"/>
<text class="lg" x="275.3" y="524.1">532</text>
<rect x="305.2" y="498.2" width="40.5" height="40.2" fill="#F8766D" stroke="#333" stroke-width="0.8"/>
<line x1="325.45" x2="325.45" y1="501.80" y2="535.40" stroke="#111" stroke-width="0.9"/>
<rect x="309.50" y="508.40" width="31.90" height="20.10" fill="#F8766D" stroke="#111" stroke-width="0.9"/>
<line x1="309.5" x2="341.4" y1="518.5999999999999" y2="518.5999999999999" stroke="#111" stroke-width="0.9"/>
<circle cx="325.45" cy="518.5999999999999" r="2.7" fill="#000"/>
<text class="lg" x="351.3" y="524.1">525</text>
<rect x="381.3" y="498.2" width="40.5" height="40.2" fill="#E76BF3" stroke="#333" stroke-width="0.8"/>
<line x1="401.55" x2="401.55" y1="501.80" y2="535.40" stroke="#111" stroke-width="0.9"/>
<rect x="385.60" y="508.40" width="31.90" height="20.10" fill="#E76BF3" stroke="#111" stroke-width="0.9"/>
<line x1="385.6" x2="417.5" y1="518.5999999999999" y2="518.5999999999999" stroke="#111" stroke-width="0.9"/>
<circle cx="401.55" cy="518.5999999999999" r="2.7" fill="#000"/>
<text class="lg" x="427.40000000000003" y="524.1">280</text>
<rect x="457.4" y="498.2" width="40.5" height="40.2" fill="#00BF7D" stroke="#333" stroke-width="0.8"/>
<line x1="477.65" x2="477.65" y1="501.80" y2="535.40" stroke="#111" stroke-width="0.9"/>
<rect x="461.70" y="508.40" width="31.90" height="20.10" fill="#00BF7D" stroke="#111" stroke-width="0.9"/>
<line x1="461.7" x2="493.59999999999997" y1="518.5999999999999" y2="518.5999999999999" stroke="#111" stroke-width="0.9"/>
<circle cx="477.65" cy="518.5999999999999" r="2.7" fill="#000"/>
<text class="lg" x="503.5" y="524.1">17</text>
<rect x="525.0" y="498.2" width="40.5" height="40.2" fill="#A3A500" stroke="#333" stroke-width="0.8"/>
<line x1="545.25" x2="545.25" y1="501.80" y2="535.40" stroke="#111" stroke-width="0.9"/>
<rect x="529.30" y="508.40" width="31.90" height="20.10" fill="#A3A500" stroke="#111" stroke-width="0.9"/>
<line x1="529.3" x2="561.2" y1="518.5999999999999" y2="518.5999999999999" stroke="#111" stroke-width="0.9"/>
<circle cx="545.25" cy="518.5999999999999" r="2.7" fill="#000"/>
<text class="lg" x="571.1" y="524.1">79</text>
</svg></body></html>
